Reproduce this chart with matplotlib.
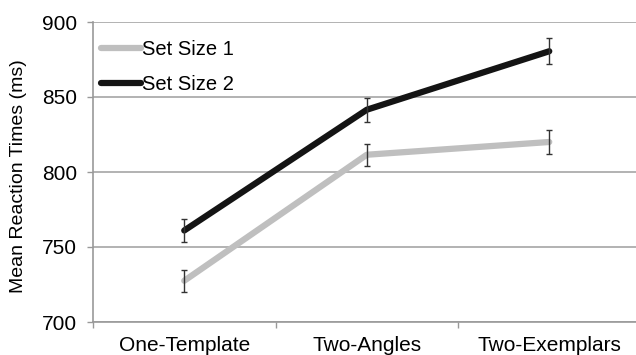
import matplotlib
matplotlib.use("Agg")
import matplotlib.pyplot as plt
import numpy as np

categories = ["One-Template", "Two-Angles", "Two-Exemplars"]
set_size_1 = [727.5, 811.5, 820.0]
set_size_1_err = [7.3, 7.5, 7.9]
set_size_2 = [761.0, 841.5, 880.5]
set_size_2_err = [7.5, 8.0, 8.7]
y_ticks = [700, 750, 800, 850, 900]

plt.rcParams['font.family'] = ['Liberation Sans', 'DejaVu Sans']

fig = plt.figure(figsize=(6.36, 3.55), dpi=100)
W, H = 636, 355
ax_left, ax_bottom_px, ax_w, ax_h = 93, 322, 547.5, 300
ax = fig.add_axes([ax_left / W, (H - ax_bottom_px) / H, ax_w / W, ax_h / H])

x = np.arange(len(categories))
ax.plot(x, set_size_1, color='#bfbfbf', lw=4.5, label='Set Size 1',
        solid_capstyle='round', zorder=3)
ax.plot(x, set_size_2, color='#141414', lw=4.5, label='Set Size 2',
        solid_capstyle='round', zorder=4)
ax.errorbar(x, set_size_1, yerr=set_size_1_err, fmt='none',
            ecolor='#333333', elinewidth=1, capsize=2.5, capthick=1, zorder=5)
ax.errorbar(x, set_size_2, yerr=set_size_2_err, fmt='none',
            ecolor='#333333', elinewidth=1, capsize=2.5, capthick=1, zorder=5)

ax.set_xlim(-0.5, 2.5)
ax.set_ylim(700, 900)
ax.set_yticks(y_ticks)
ax.set_yticklabels([str(v) for v in y_ticks], fontsize=15)
ax.set_xticks(x)
ax.set_xticklabels(categories, fontsize=15)
ax.set_xticks([-0.5, 0.5, 1.5, 2.5], minor=True)
ax.tick_params(axis='x', which='major', length=0, pad=10)
ax.tick_params(axis='x', which='minor', length=4.3, color='#999999', width=1)
ax.tick_params(axis='y', length=4.3, color='#999999', width=1, pad=7)

ax.grid(axis='y', color='#a6a6a6', lw=1.2, zorder=0)
for s in ['top', 'right']:
    ax.spines[s].set_visible(False)
for s in ['left', 'bottom']:
    ax.spines[s].set_color('#999999')
    ax.spines[s].set_linewidth(1.2)

ax.set_ylabel('Mean Reaction Times (ms)', fontsize=14, va='center')
ax.yaxis.set_label_coords((19 - ax_left) / ax_w, (ax_bottom_px - 176) / ax_h)

leg = ax.legend(loc='upper left', bbox_to_anchor=(0.0, 0.968), frameon=False,
                fontsize=14.5, handlelength=2.0, handletextpad=0.02,
                labelspacing=0.8, borderaxespad=0.0, borderpad=0.4)

fig.savefig('out.png', dpi=100)
